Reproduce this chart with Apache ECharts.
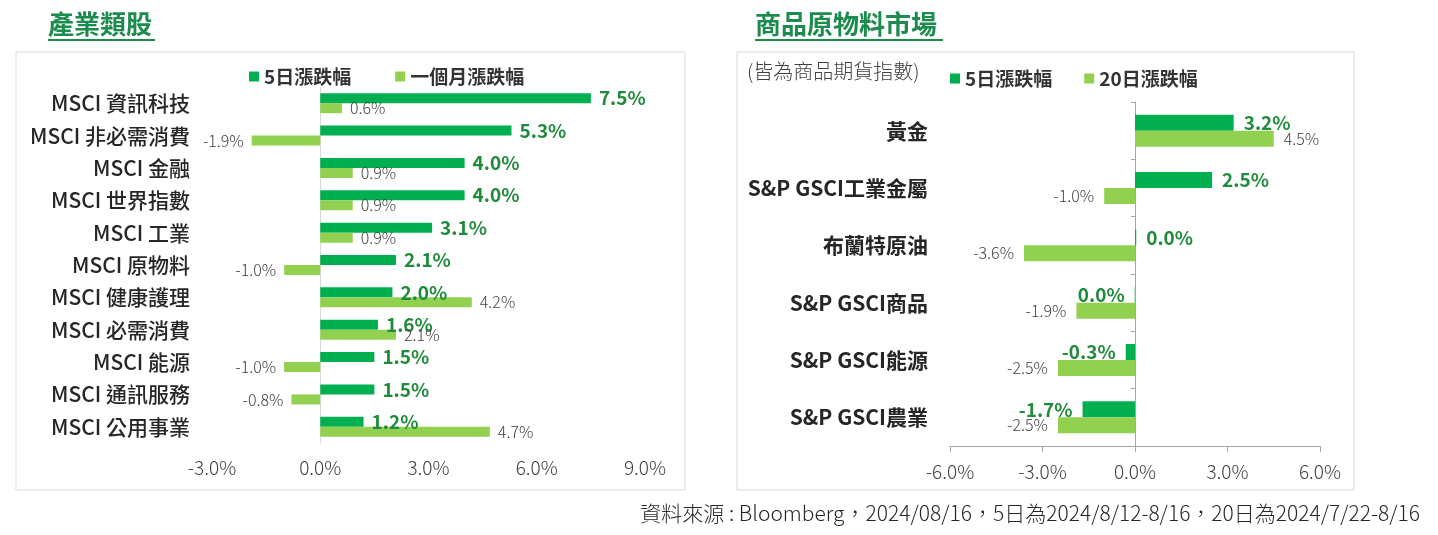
<!DOCTYPE html>
<html>
    <head>
        <meta charset="utf-8">
        <title></title>
        <script src="https://cdn.jsdelivr.net/npm/echarts@6/dist/echarts.min.js"></script>
        <style>
            html, body { margin: 0; padding: 0; background: #fff; }
        </style>
    </head>
    <body>
    <div id="main" style="width: 1438px;height:535px;"></div>
    <script type="text/javascript">
        // 左：產業類股
        var sectors = ['MSCI 資訊科技', 'MSCI 非必需消費', 'MSCI 金融', 'MSCI 世界指數', 'MSCI 工業',
            'MSCI 原物料', 'MSCI 健康護理', 'MSCI 必需消費', 'MSCI 能源', 'MSCI 通訊服務', 'MSCI 公用事業']
        var sector5d = [7.5, 5.3, 4.0, 4.0, 3.1, 2.1, 2.0, 1.6, 1.5, 1.5, 1.2]
        var sector1m = [0.6, -1.9, 0.9, 0.9, 0.9, -1.0, 4.2, 2.1, -1.0, -0.8, 4.7]
        var sectorTicks = [-3, 9, 3]   // min, max, interval

        // 右：商品原物料市場
        var goods = ['黃金', 'S&P GSCI工業金屬', '布蘭特原油', 'S&P GSCI商品', 'S&P GSCI能源', 'S&P GSCI農業']
        var goods5d = [3.2, 2.5, 0.04, -0.01, -0.3, -1.7]
        var goods20d = [4.5, -1.0, -3.6, -1.9, -2.5, -2.5]
        var goodsTicks = [-6, 6, 3]

        var FONT = '"Noto Sans CJK TC", "Noto Sans", sans-serif'
        var DARK = '#00b050'
        var LIGHT = '#92d050'
        var TITLE_GREEN = '#1b8c4e'
        var LABEL_GREEN = '#1f8b3b'

        var pct = function(v) {
            var s = (Math.round(v * 10) / 10).toFixed(1)
            if (s === '-0.0') s = '0.0'
            return s + '%'
        }

        // 依正負決定標籤在左或右
        var withLabels = function(values, dist) {
            return values.map(function(v) {
                return {
                    value: v,
                    label: { position: v < 0 ? 'left' : 'right', distance: dist }
                }
            })
        }

        var myChart = echarts.init(document.getElementById('main'))

        var valueAxis = function(grid, t, showLine) {
            return {
                type: 'value', gridIndex: grid, min: t[0], max: t[1], interval: t[2],
                axisLine: { show: showLine, onZero: false, lineStyle: { color: '#a6a6a6' } },
                axisTick: { show: showLine, length: 6, lineStyle: { color: '#a6a6a6' } },
                splitLine: { show: false },
                axisLabel: {
                    formatter: function(v) { return v.toFixed(1) + '%' },
                    fontFamily: FONT, fontSize: 19, fontWeight: 300, color: '#404040',
                    margin: showLine ? 16 : 15
                }
            }
        }

        var option = {
            animation: false,
            graphic: [
                { type: 'rect', shape: { x: 16, y: 52, width: 669, height: 438 },
                  style: { fill: 'none', stroke: '#d9d9d9', lineWidth: 1 } },
                { type: 'rect', shape: { x: 737, y: 52, width: 617, height: 438 },
                  style: { fill: 'none', stroke: '#d9d9d9', lineWidth: 1 } },
                { type: 'text', left: 48, top: 11,
                  style: { text: '產業類股', font: 'bold 26px ' + FONT, fill: TITLE_GREEN } },
                { type: 'rect', shape: { x: 48, y: 39, width: 107, height: 2 }, style: { fill: TITLE_GREEN } },
                { type: 'text', left: 755, top: 11,
                  style: { text: '商品原物料市場', font: 'bold 26px ' + FONT, fill: TITLE_GREEN } },
                { type: 'rect', shape: { x: 755, y: 39, width: 188, height: 2 }, style: { fill: TITLE_GREEN } },
                { type: 'text', left: 747, top: 61,
                  style: { text: '(皆為商品期貨指數)', font: '300 20px ' + FONT, fill: '#404040' } },
                { type: 'text', right: 18, top: 503,
                  style: { text: '資料來源 : Bloomberg，2024/08/16，5日為2024/8/12-8/16，20日為2024/7/22-8/16',
                           font: '300 21px ' + FONT, fill: '#262626' } }
            ],
            legend: [
                { left: 244, top: 62, itemWidth: 10, itemHeight: 10, itemGap: 44, icon: 'rect',
                  data: ['5日漲跌幅', '一個月漲跌幅'],
                  textStyle: { fontFamily: FONT, fontSize: 19, fontWeight: 'bold', color: '#333' } },
                { left: 945, top: 64, itemWidth: 10, itemHeight: 10, itemGap: 32, icon: 'rect',
                  data: ['5日漲跌幅', '20日漲跌幅'],
                  textStyle: { fontFamily: FONT, fontSize: 19, fontWeight: 'bold', color: '#333' } }
            ],
            grid: [
                { left: 212, right: 793, top: 87, bottom: 92 },
                { left: 950, right: 118, top: 102, bottom: 89 }
            ],
            xAxis: [
                valueAxis(0, sectorTicks, false),
                valueAxis(1, goodsTicks, true)
            ],
            yAxis: [
                // 類別文字
                { type: 'category', gridIndex: 0, data: sectors, inverse: true, position: 'left',
                  axisLine: { show: false, onZero: false }, axisTick: { show: false },
                  axisLabel: { fontFamily: FONT, fontSize: 21, fontWeight: 500, color: '#262626', margin: 22 } },
                // 0 軸線
                { type: 'category', gridIndex: 0, data: sectors, inverse: true, position: 'left',
                  axisLine: { show: true, onZero: true, lineStyle: { color: '#d9d9d9' } },
                  axisTick: { show: false }, axisLabel: { show: false } },
                { type: 'category', gridIndex: 1, data: goods, inverse: true, position: 'left',
                  axisLine: { show: false, onZero: false }, axisTick: { show: false },
                  axisLabel: { fontFamily: FONT, fontSize: 21, fontWeight: 'bold', color: '#262626', margin: 22 } },
                { type: 'category', gridIndex: 1, data: goods, inverse: true, position: 'left',
                  axisLine: { show: true, onZero: true, lineStyle: { color: '#a6a6a6' } },
                  axisTick: { show: true, length: 4, lineStyle: { color: '#a6a6a6' } },
                  axisLabel: { show: false } }
            ],
            series: [
                { name: '5日漲跌幅', type: 'bar', xAxisIndex: 0, yAxisIndex: 0,
                  data: withLabels(sector5d, 8), barWidth: 10, barGap: '0%',
                  itemStyle: { color: DARK },
                  label: { show: true, formatter: function(p) { return pct(p.value) },
                           fontFamily: FONT, fontSize: 19, fontWeight: 'bold', color: LABEL_GREEN } },
                { name: '一個月漲跌幅', type: 'bar', xAxisIndex: 0, yAxisIndex: 0,
                  data: withLabels(sector1m, 8), barWidth: 10, barGap: '0%',
                  itemStyle: { color: LIGHT },
                  label: { show: true, formatter: function(p) { return pct(p.value) },
                           fontFamily: FONT, fontSize: 16, fontWeight: 300, color: '#404040' } },
                { name: '5日漲跌幅', type: 'bar', xAxisIndex: 1, yAxisIndex: 2,
                  data: withLabels(goods5d, 10), barWidth: 16, barGap: '0%',
                  itemStyle: { color: DARK },
                  label: { show: true, formatter: function(p) { return pct(p.value) },
                           fontFamily: FONT, fontSize: 19, fontWeight: 'bold', color: LABEL_GREEN } },
                { name: '20日漲跌幅', type: 'bar', xAxisIndex: 1, yAxisIndex: 2,
                  data: withLabels(goods20d, 10), barWidth: 16, barGap: '0%',
                  itemStyle: { color: LIGHT },
                  label: { show: true, formatter: function(p) { return pct(p.value) },
                           fontFamily: FONT, fontSize: 16, fontWeight: 300, color: '#404040' } }
            ]
        }
        myChart.setOption(option)
    </script>
    </body>
</html>
